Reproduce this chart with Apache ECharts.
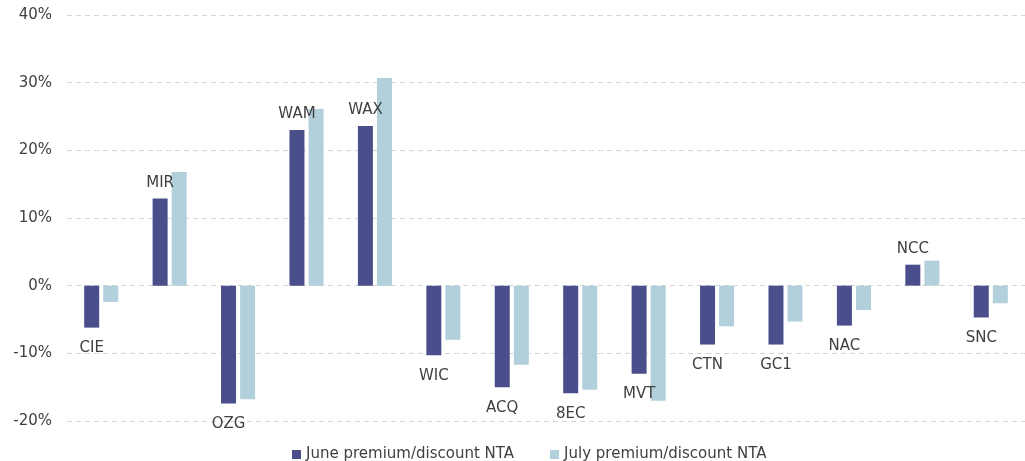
<!DOCTYPE html>
<html>
<head>
<meta charset="utf-8">
<script src="https://cdn.jsdelivr.net/npm/echarts@6/dist/echarts.min.js"></script>
<style>
html, body { margin: 0; padding: 0; background: #fff; }
#chart { width: 1025px; height: 461px; }
</style>
</head>
<body>
<div id="chart"></div>
<script>
// fund codes and premium/discount to NTA (%)
var codes = ['CIE', 'MIR', 'OZG', 'WAM', 'WAX', 'WIC', 'ACQ', '8EC', 'MVT', 'CTN', 'GC1', 'NAC', 'NCC', 'SNC'];
var juneValues = [-6.2, 12.9, -17.4, 23.0, 23.6, -10.3, -15.0, -15.9, -13.0, -8.7, -8.7, -5.9, 3.1, -4.7];
var julyValues = [-2.4, 16.8, -16.8, 26.1, 30.7, -8.0, -11.7, -15.4, -17.0, -6.0, -5.3, -3.6, 3.7, -2.6];
var seriesNames = ['June premium/discount NTA', 'July premium/discount NTA'];
var yTicks = [-20, -10, 0, 10, 20, 30, 40];

var font = 'DejaVu Sans';
var textColor = '#404040';

// june bars carry the code label, above for premium, below for discount
var juneData = juneValues.map(function (v, i) {
	return {
		value: v,
		label: {
			position: v < 0 ? 'bottom' : 'top',
			distance: v < 0 ? 13 : 8
		}
	};
});

var chart = echarts.init(document.getElementById('chart'));
var option = {
	animation: false,
	backgroundColor: '#fff',
	grid: { left: 67, right: 0, top: 15, bottom: 40, containLabel: false },
	legend: {
		left: 287,
		top: 442,
		itemWidth: 9,
		itemHeight: 9,
		itemGap: 36,
		icon: 'rect',
		data: seriesNames,
		textStyle: { fontFamily: font, fontSize: 15, color: textColor }
	},
	xAxis: {
		type: 'category',
		data: codes,
		axisLine: { show: false },
		axisTick: { show: false },
		axisLabel: { show: false }
	},
	yAxis: {
		type: 'value',
		min: yTicks[0],
		max: yTicks[yTicks.length - 1],
		interval: 10,
		axisLine: { show: false },
		axisTick: { show: false },
		axisLabel: {
			margin: 15,
			fontFamily: font,
			fontSize: 15,
			color: textColor,
			formatter: function (v) { return v + '%'; }
		},
		splitLine: { lineStyle: { color: '#d4d4d4', width: 1, type: [5, 4] } }
	},
	series: [
		{
			name: seriesNames[0],
			type: 'bar',
			barWidth: 15,
			barGap: '27%',
			data: juneData,
			itemStyle: { color: '#4a4e8a' },
			label: {
				show: true,
				fontFamily: font,
				fontSize: 15,
				color: textColor,
				formatter: function (p) { return codes[p.dataIndex]; }
			}
		},
		{
			name: seriesNames[1],
			type: 'bar',
			barWidth: 15,
			data: julyValues,
			itemStyle: { color: '#b2d0db' }
		}
	]
};
chart.setOption(option);
</script>
</body>
</html>
